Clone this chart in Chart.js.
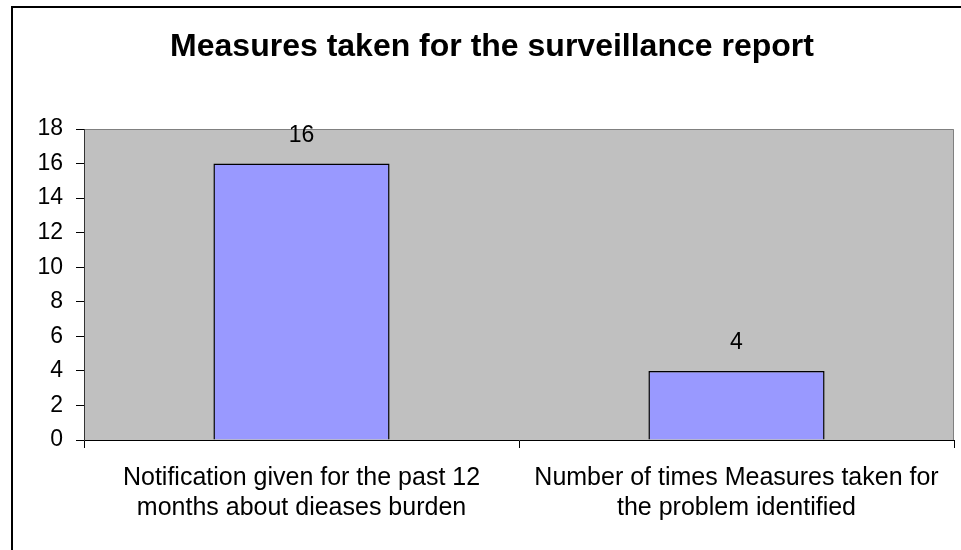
<!DOCTYPE html>
<html lang="en">
<head>
    <meta charset="UTF-8">
    <script src="https://cdn.jsdelivr.net/npm/chart.js"></script>
    <title>Measures taken for the surveillance report</title>
    <style>
        body { margin: 0; background: #fff; }
    </style>
</head>
<body>
    <canvas id="myChart" width="961" height="550"></canvas>

    <script>
        // data
        const categories = [
            ['Notification given for the past 12', 'months about dieases burden'],
            ['Number of times Measures taken for', 'the problem identified']
        ];
        const measures = [16, 4];
        const yMin = 0, yMax = 18, yStep = 2;

        Chart.defaults.font.family = "'Liberation Sans', Arial, sans-serif";
        Chart.defaults.color = '#000';

        // white page, outer frame and grey plot area
        const backdrop = {
            id: 'backdrop',
            beforeDraw(chart) {
                const c = chart.ctx, a = chart.chartArea;
                c.save();
                c.fillStyle = '#fff';
                c.fillRect(0, 0, chart.width, chart.height);
                c.strokeStyle = '#000';
                c.lineWidth = 2;
                c.beginPath();
                c.moveTo(12, chart.height);
                c.lineTo(12, 7);
                c.lineTo(chart.width, 7);
                c.stroke();
                c.fillStyle = '#c0c0c0';
                c.fillRect(a.left, a.top, a.right - a.left, a.bottom - a.top);
                c.strokeStyle = '#808080';
                c.lineWidth = 1;
                c.beginPath();
                c.moveTo(a.left, a.top + 0.5);
                c.lineTo(a.right - 0.5, a.top + 0.5);
                c.lineTo(a.right - 0.5, a.bottom);
                c.stroke();
                c.restore();
            }
        };

        // value written above each bar
        const valueLabels = {
            id: 'valueLabels',
            afterDatasetsDraw(chart) {
                const c = chart.ctx;
                c.save();
                c.font = "23px 'Liberation Sans', Arial, sans-serif";
                c.fillStyle = '#000';
                c.textAlign = 'center';
                c.textBaseline = 'middle';
                chart.getDatasetMeta(0).data.forEach((bar, i) => {
                    c.fillText(String(measures[i]), bar.x, bar.y - 28);
                });
                c.restore();
            }
        };

        const ctx = document.getElementById('myChart').getContext('2d');
        const myChart = new Chart(ctx, {
            type: 'bar',
            data: {
                labels: categories,
                datasets: [{
                    data: measures,
                    backgroundColor: '#9999ff',
                    borderColor: '#000',
                    borderWidth: 1.5,
                    categoryPercentage: 1,
                    barPercentage: 0.405
                }]
            },
            options: {
                responsive: false,
                animation: false,
                events: [],
                layout: { padding: { left: 30, right: 7, top: 0, bottom: 0 } },
                plugins: {
                    legend: { display: false },
                    tooltip: { enabled: false },
                    title: {
                        display: true,
                        text: 'Measures taken for the surveillance report',
                        color: '#000',
                        font: { size: 32, weight: 'bold' },
                        padding: { top: 28, bottom: 62.6 }
                    }
                },
                scales: {
                    x: {
                        grid: { drawOnChartArea: false, drawTicks: true, tickLength: 8, color: '#000' },
                        border: { display: true, color: '#000', width: 1 },
                        ticks: { font: { size: 25, lineHeight: 1.2 }, padding: 15, maxRotation: 0, autoSkip: false },
                        afterFit(scale) { scale.height = 110; }
                    },
                    y: {
                        min: yMin,
                        max: yMax,
                        grid: { drawOnChartArea: false, drawTicks: true, tickLength: 8, color: '#000' },
                        border: { display: true, color: '#333', width: 1 },
                        ticks: { stepSize: yStep, font: { size: 23 }, padding: 13 },
                        afterFit(scale) { scale.width = 54; }
                    }
                }
            },
            plugins: [backdrop, valueLabels]
        });
    </script>
</body>
</html>
